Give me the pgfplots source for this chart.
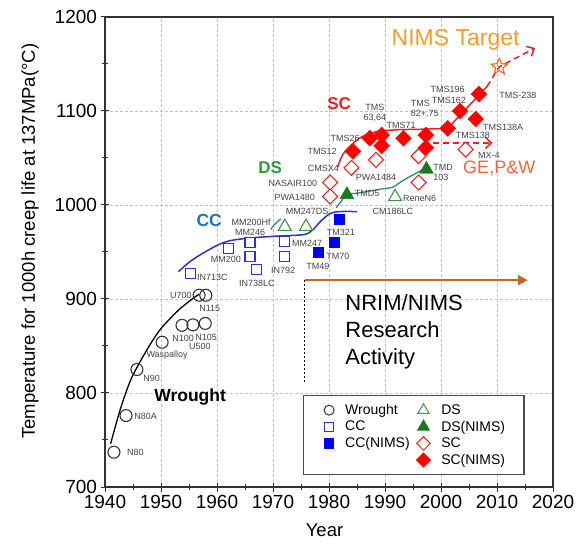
\documentclass[border=0pt]{standalone}
\usepackage{pgfplots}
\pgfplotsset{compat=1.18}
\usepackage{fontspec}
\setmainfont{Liberation Sans}
\usetikzlibrary{arrows.meta}
\definecolor{ccblue}{HTML}{3030D8}
\definecolor{cctext}{HTML}{2272C0}
\definecolor{dsgreen}{HTML}{3C9A3C}
\definecolor{dsdark}{HTML}{1A7A1A}
\definecolor{dsline}{HTML}{2E8B6A}
\definecolor{dstext}{HTML}{2E9A3A}
\definecolor{scred}{HTML}{E82020}
\definecolor{scfill}{HTML}{FF0000}
\definecolor{targetorange}{HTML}{F39C28}
\definecolor{starorange}{HTML}{F07020}
\definecolor{georange}{HTML}{F0643C}
\definecolor{nrim}{HTML}{C8651E}
\definecolor{lbl}{HTML}{444444}
\pgfdeclareplotmark{ostar}{%
  \pgfpathmoveto{\pgfqpointpolar{90}{\pgfplotmarksize}}%
  \pgfpathlineto{\pgfqpointpolar{126}{0.45\pgfplotmarksize}}%
  \pgfpathlineto{\pgfqpointpolar{162}{\pgfplotmarksize}}%
  \pgfpathlineto{\pgfqpointpolar{198}{0.45\pgfplotmarksize}}%
  \pgfpathlineto{\pgfqpointpolar{234}{\pgfplotmarksize}}%
  \pgfpathlineto{\pgfqpointpolar{270}{0.45\pgfplotmarksize}}%
  \pgfpathlineto{\pgfqpointpolar{306}{\pgfplotmarksize}}%
  \pgfpathlineto{\pgfqpointpolar{342}{0.45\pgfplotmarksize}}%
  \pgfpathlineto{\pgfqpointpolar{18}{\pgfplotmarksize}}%
  \pgfpathlineto{\pgfqpointpolar{54}{0.45\pgfplotmarksize}}%
  \pgfpathclose
  \pgfusepathqstroke}
\begin{document}
\begin{tikzpicture}
\begin{axis}[
  at={(0,0)}, anchor=south west,
  width=448pt, height=470pt, scale only axis,
  xmin=1940, xmax=2020, ymin=700, ymax=1200,
  xtick={1940,1950,...,2020}, ytick={700,800,...,1200},
  minor x tick num=1, minor y tick num=1,
  xtick pos=left, ytick pos=left,
  tick align=center, major tick length=9pt, minor tick length=6pt,
  tick style={black!80, line width=1pt},
  axis line style={black!80, line width=1.2pt},
  grid=major,
  major grid style={draw=blue!25!gray!40, dash pattern=on 3pt off 2pt, line width=0.6pt},
  /pgf/number format/1000 sep={},
  /pgf/number format/assume math mode=true,
  tick label style={font=\fontsize{19}{21}\selectfont},
  xlabel={Year},
  ylabel={Temperature for 1000h creep life at 137MPa(°C)},
  label style={font=\fontsize{18.5}{21}\selectfont},
  xlabel style={at={(axis description cs:0.49,-0.0915)}, anchor=center},
  ylabel style={at={(axis description cs:-0.167,0.523)}, anchor=center},
  clip=false,
  legend columns=2,
  legend cell align=left,
  legend style={at={(rel axis cs:0.442,0.0255)}, anchor=south west,
    draw=black!70, line width=1.2pt, font=\fontsize{14}{16}\selectfont,
    inner xsep=17pt, inner ysep=6.5pt, row sep=1pt,
    /tikz/every odd column/.append style={column sep=9pt},
    /tikz/every even column/.append style={column sep=5pt}},
]
% ---------- legend images ----------
\addlegendimage{only marks, color=black!80, mark=o, mark size=5pt, line width=1pt}
\addlegendentry{Wrought}
\addlegendimage{only marks, color=dsgreen, mark=triangle*, mark size=6.5pt, mark options={draw=dsgreen, fill=white}, line width=1pt}
\addlegendentry{DS}
\addlegendimage{only marks, color=ccblue, mark=square*, mark size=4.5pt, mark options={draw=ccblue, fill=white}, line width=1pt}
\addlegendentry{CC}
\addlegendimage{only marks, color=dsdark, mark=triangle*, mark size=6.5pt, mark options={draw=dsdark, fill=dsdark}}
\addlegendentry{DS(NIMS)}
\addlegendimage{only marks, color=blue, mark=square*, mark size=4.5pt, mark options={draw=blue, fill=blue}}
\addlegendentry{CC(NIMS)}
\addlegendimage{only marks, color=scred, mark=square*, mark size=4.8pt, mark options={rotate=45, draw=scred, fill=white}, line width=1pt}
\addlegendentry{SC}
\addlegendimage{empty legend}
\addlegendentry{}
\addlegendimage{only marks, color=scfill, mark=square*, mark size=4.8pt, mark options={rotate=45, draw=scfill, fill=scfill}}
\addlegendentry{SC(NIMS)}

% ---------- trend curves ----------
\addplot[forget plot, black, line width=1.3pt, smooth] coordinates {
 (1941.0,746) (1942.7,782) (1944.6,814) (1947.1,842) (1949.8,867) (1953.1,888) (1955.8,901) (1956.8,905)};
\addplot[forget plot, ccblue, line width=1.5pt, smooth] coordinates {
 (1953.1,929) (1955,939) (1957,947) (1960,957) (1962.3,962) (1966,965) (1971,967) (1975.5,968.5) (1977,973) (1978.4,982) (1980.2,991) (1982,993) (1985,993)};
\addplot[forget plot, dsline, line width=1.3pt, smooth] coordinates {
 (1969.6,974) (1970.4,980) (1971.4,985)};
\addplot[forget plot, dsline, line width=1.3pt, smooth] coordinates {
 (1981.3,997) (1982.3,1005) (1983.2,1011) (1985.5,1013) (1989.3,1017) (1991.4,1019) (1993.2,1026) (1995,1032) (1997.5,1040)};
\addplot[forget plot, scred, line width=1.5pt, smooth] coordinates {
 (1981.5,1040) (1982.5,1054) (1984,1064) (1986,1073) (1988.5,1078) (1992,1080) (1996,1080.5) (2001.2,1081.5)};
\addplot[forget plot, scred, line width=1.5pt] coordinates {(2001.2,1081.5) (2008.2,1126)};
\addplot[forget plot, scred, line width=1.5pt, dash pattern=on 6pt off 4pt, -{Straight Barb[length=6pt,width=11pt]}] coordinates {(2008.2,1126) (2010.4,1147) (2016.8,1167)};
\addplot[forget plot, scred, line width=1.5pt, dash pattern=on 6pt off 4pt, -{Straight Barb[length=6pt,width=11pt]}] coordinates {(1998.6,1066) (2009.2,1066)};
% NRIM/NIMS research activity
\addplot[forget plot, nrim, line width=2.5pt, -{Triangle[length=10pt,width=10pt]}] coordinates {(1975.7,920) (2015.5,920)};
\addplot[forget plot, black, line width=1pt, dash pattern=on 2pt off 2pt] coordinates {(1975.7,920) (1975.7,810)};

% ---------- data points ----------
% Wrought
\addplot[forget plot, only marks, color=black!80, mark=o, mark size=6pt, line width=1.1pt] coordinates {
 (1941.6,737) (1943.75,776) (1945.7,825) (1950.2,854) (1953.75,872) (1955.7,872.5) (1957.9,874) (1956.8,904) (1958,904)};
% CC
\addplot[forget plot, only marks, color=ccblue, mark=square*, mark size=5pt, mark options={draw=ccblue, fill=white}, line width=1.1pt] coordinates {
 (1955.2,927) (1962.1,954) (1965.9,960) (1965.9,945) (1967,931) (1972.1,961) (1972.1,945)};
% CC(NIMS)
\addplot[forget plot, only marks, color=blue, mark=square*, mark size=5pt, mark options={draw=blue, fill=blue}] coordinates {
 (1978,950) (1981,960) (1981.9,985)};
% DS
\addplot[forget plot, only marks, color=dsgreen, mark=triangle*, mark size=7.5pt, mark options={draw=dsgreen, fill=white}, line width=1.1pt] coordinates {
 (1972.1,977) (1975.9,977) (1991.8,1008.6)};
% DS(NIMS)
\addplot[forget plot, only marks, color=dsdark, mark=triangle*, mark size=8pt, mark options={draw=dsdark, fill=dsdark}] coordinates {
 (1983.2,1011) (1997.4,1038)};
% SC
\addplot[forget plot, only marks, color=scred, mark=square*, mark size=5.3pt, mark options={rotate=45, draw=scred, fill=white}, line width=1.1pt] coordinates {
 (1980.2,1024) (1980.2,1009) (1984,1039.5) (1988.4,1048) (1996,1052) (1996,1024) (2004.4,1059)};
% SC(NIMS)
\addplot[forget plot, only marks, color=scfill, mark=square*, mark size=5.6pt, mark options={rotate=45, draw=scfill, fill=scfill}] coordinates {
 (1984.3,1057) (1987.3,1071) (1989.4,1074.5) (1989.4,1063) (1993.3,1071) (1997.3,1074.5) (1997.3,1061) (2001.2,1081.5) (2003.4,1100) (2006.8,1118) (2006.2,1091.5)};
% NIMS target star
\addplot[forget plot, only marks, color=starorange, mark=ostar, mark size=8.5pt, line width=1.2pt] coordinates {(2010.4,1147)};

% ---------- point labels ----------
\begin{scope}[every node/.style={font=\fontsize{9}{10}\selectfont, text=lbl, inner sep=0pt}]
\node[anchor=west] at (axis cs:1943.9,737) {N80};
\node[anchor=west] at (axis cs:1945.2,775.5) {N80A};
\node[anchor=west] at (axis cs:1946.8,816) {N90};
\node at (axis cs:1951.1,840.4) {Waspalloy};
\node[anchor=west] at (axis cs:1952,858.5) {N100};
\node[anchor=west] at (axis cs:1956.1,859.6) {N105};
\node[anchor=west] at (axis cs:1955,850) {U500};
\node[anchor=east] at (axis cs:1955.5,904.3) {U700};
\node[anchor=west] at (axis cs:1956.8,890.4) {N115};
\node[anchor=west] at (axis cs:1956.4,923.4) {IN713C};
\node at (axis cs:1961.6,942.6) {MM200};
\node at (axis cs:1965.9,971.3) {MM246};
\node at (axis cs:1967.1,917) {IN738LC};
\node[anchor=west] at (axis cs:1973.4,959.6) {MM247};
\node at (axis cs:1971.8,930.9) {IN792};
\node[anchor=east] at (axis cs:1969.6,982) {MM200Hf};
\node at (axis cs:1976.1,993.6) {MM247DS};
\node at (axis cs:1978,935) {TM49};
\node[anchor=west] at (axis cs:1979.5,945.7) {TM70};
\node at (axis cs:1982.1,971.3) {TM321};
\node[anchor=west] at (axis cs:1984.6,1012.8) {TMD5};
\node[anchor=west] at (axis cs:1993.2,1007.4) {ReneN6};
\node at (axis cs:1991.4,993.6) {CM186LC};
\node[anchor=west, align=left] at (axis cs:1998.6,1035.1) {TMD\\103};
\node[anchor=east] at (axis cs:1977.9,1023.4) {NASAIR100};
\node[anchor=east] at (axis cs:1977.5,1008.5) {PWA1480};
\node[anchor=east] at (axis cs:1981.8,1039.4) {CMSX4};
\node at (axis cs:1988.4,1029.8) {PWA1484};
\node[anchor=west] at (axis cs:2006.6,1053) {MX-4};
\node at (axis cs:2005.7,1074.5) {TMS138};
\node[anchor=west] at (axis cs:2007.5,1083) {TMS138A};
\node[anchor=west] at (axis cs:2010.4,1117) {TMS-238};
\node at (axis cs:2001.2,1123.4) {TMS196};
\node at (axis cs:2001.4,1111.7) {TMS162};
\node[anchor=west, align=left] at (axis cs:1994.6,1102.1) {TMS\\82+,75};
\node[align=center] at (axis cs:1988.2,1098.4) {TMS\\63,64};
\node at (axis cs:1992.9,1085.1) {TMS71};
\node[anchor=east] at (axis cs:1985.5,1071.3) {TMS26};
\node[anchor=east] at (axis cs:1981.4,1057.4) {TMS12};
\end{scope}

% ---------- group labels ----------
\node[font=\bfseries\fontsize{17}{19}\selectfont, text=scred] at (axis cs:1981.8,1107.4) {SC};
\node[font=\bfseries\fontsize{17}{19}\selectfont, text=dstext] at (axis cs:1969.5,1039.4) {DS};
\node[font=\bfseries\fontsize{17.5}{19}\selectfont, text=cctext] at (axis cs:1958.6,984) {CC};
\node[font=\bfseries\fontsize{17.5}{19}\selectfont, text=black] at (axis cs:1955.2,795.7) {Wrought};
\node[font=\fontsize{23}{26}\selectfont, text=targetorange] at (axis cs:2002.6,1175.5) {NIMS Target};
\node[font=\fontsize{18}{20}\selectfont, text=georange, inner sep=0pt] at (axis cs:2010.4,1038.5) {GE,P\&W};
\node[font=\fontsize{22}{27}\selectfont, anchor=west, align=left, inner sep=0pt] at (axis cs:1982.9,865.4) {NRIM/NIMS\\Research\\Activity};
\end{axis}
\pgfresetboundingbox
\useasboundingbox (-105pt,-58pt) rectangle (480pt,487pt);
\end{tikzpicture}
\end{document}
